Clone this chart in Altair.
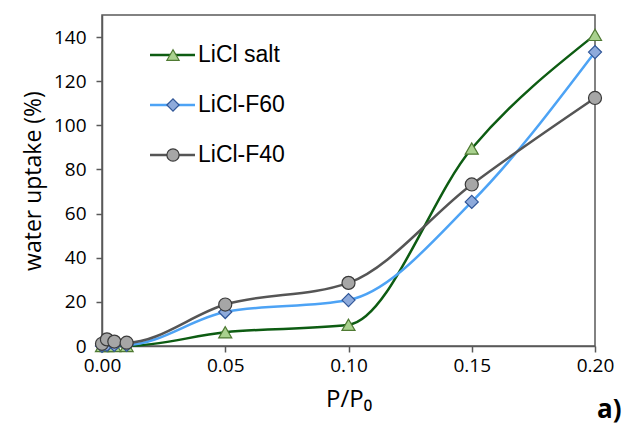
import altair as alt
import pandas as pd

series_names = ["LiCl salt", "LiCl-F60", "LiCl-F40"]

x_salt = [0.0, 0.002, 0.005, 0.01, 0.05, 0.10, 0.15, 0.20]
y_salt = [0.0, 0.0, 0.0, 0.0, 6.2, 9.6, 89.5, 141.0]

x_f60 = [0.0, 0.002, 0.005, 0.01, 0.05, 0.10, 0.15, 0.20]
y_f60 = [0.0, 0.5, 0.5, 0.5, 15.4, 20.8, 65.3, 133.2]

x_f40 = [0.0, 0.002, 0.005, 0.01, 0.05, 0.10, 0.15, 0.20]
y_f40 = [1.0, 3.0, 2.0, 1.5, 18.8, 28.6, 73.2, 112.4]

line_colors = ["#0d5c12", "#4da3f5", "#555555"]
fill_colors = ["#a9d18e", "#8eaadb", "#a6a6a6"]
stroke_colors = ["#4f7a33", "#2f5597", "#3a3a3a"]
shapes = ["triangle-up", "diamond", "circle"]

rows = []
for name, xs, ys in zip(series_names, [x_salt, x_f60, x_f40], [y_salt, y_f60, y_f40]):
    for i, (xv, yv) in enumerate(zip(xs, ys)):
        rows.append({"series": name, "p": xv, "uptake": yv, "order": i})
df = pd.DataFrame(rows)
legend_df = pd.DataFrame({"series": series_names})

color_scale = alt.Scale(domain=series_names, range=line_colors)
fill_scale = alt.Scale(domain=series_names, range=fill_colors)
stroke_scale = alt.Scale(domain=series_names, range=stroke_colors)
shape_scale = alt.Scale(domain=series_names, range=shapes)

x_enc = alt.X("p:Q", scale=alt.Scale(domain=[0, 0.2], nice=False, zero=False),
              axis=alt.Axis(title="P/P₀", values=[0, 0.05, 0.1, 0.15, 0.2], format=".2f",
                            grid=False, tickSize=6, labelPadding=4, titlePadding=12,
                            labelFlush=False, labelOverlap=False))
y_enc = alt.Y("uptake:Q", scale=alt.Scale(domain=[0, 150], nice=False),
              axis=alt.Axis(title="water uptake (%)", values=[0, 20, 40, 60, 80, 100, 120, 140],
                            grid=False, tickSize=6, labelPadding=10, titlePadding=8,
                            labelFlush=False, labelOverlap=False))

lines = alt.Chart(df).mark_line(interpolate="monotone", strokeWidth=2.5).encode(
    x=x_enc, y=y_enc,
    color=alt.Color("series:N", scale=color_scale, legend=None),
    order="order:Q",
    detail="series:N",
)

points = alt.Chart(df).mark_point(filled=True, opacity=1, strokeWidth=1.2, size=170).encode(
    x=x_enc, y=y_enc,
    fill=alt.Fill("series:N", scale=fill_scale, legend=None),
    stroke=alt.Stroke("series:N", scale=stroke_scale, legend=None),
    shape=alt.Shape("series:N", scale=shape_scale, legend=None),
)

ly = alt.Y("series:N", scale=alt.Scale(type="point", domain=series_names, range=[40, 140], padding=0), axis=None)

leg_lines = alt.Chart(legend_df).mark_rule(strokeWidth=2.5).encode(
    x=alt.value(48), x2=alt.value(93), y=ly,
    color=alt.Color("series:N", scale=color_scale, legend=None),
)
leg_points = alt.Chart(legend_df).mark_point(filled=True, opacity=1, strokeWidth=1.2, size=150).encode(
    x=alt.value(71), y=ly,
    fill=alt.Fill("series:N", scale=fill_scale, legend=None),
    stroke=alt.Stroke("series:N", scale=stroke_scale, legend=None),
    shape=alt.Shape("series:N", scale=shape_scale, legend=None),
)
leg_text = alt.Chart(legend_df).mark_text(align="left", baseline="middle", font="Liberation Sans",
                                          fontSize=23, color="#000000").encode(
    x=alt.value(96), y=ly, text="series:N",
)

label = alt.Chart(legend_df).transform_filter(alt.datum.series == series_names[0]).mark_text(
    text="a)", align="left", baseline="alphabetic", font="Open Sans", fontSize=26,
    fontWeight="bold", color="#000000").encode(x=alt.value(495), y=alt.value(403))

main = alt.layer(lines, points)
legend = alt.layer(leg_lines, leg_points, leg_text)

chart = alt.layer(main, legend, label).resolve_scale(
    y="independent"
).properties(
    width=493, height=331,
    autosize=alt.AutoSizeParams(type="none"),
    padding={"left": 94, "top": 7, "right": 37, "bottom": 82},
).configure_view(
    stroke="#595959", strokeWidth=1.5
).configure_axis(
    labelFont="Open Sans", titleFont="Open Sans", labelFontSize=19, titleFontSize=23,
    titleFontWeight="normal", labelColor="#000000", titleColor="#000000",
    domainColor="#595959", tickColor="#595959", domainWidth=1.5, tickWidth=1.5,
).configure_axisX(titleFontSize=24)

chart.save("out.html", embed_options={"renderer": "svg", "actions": False})
